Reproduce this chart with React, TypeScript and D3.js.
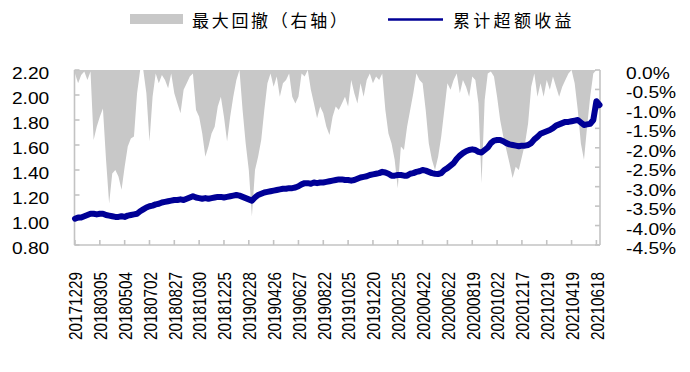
import React from "react";
import * as d3 from "d3";

// ---- data ----
const xLabels = [
  "20171229", "20180305", "20180504", "20180702", "20180827", "20181030",
  "20181225", "20190228", "20190426", "20190627", "20190822", "20191025",
  "20191220", "20200225", "20200422", "20200622", "20200819", "20201022",
  "20201217", "20210219", "20210419", "20210618",
];
const labelStepDays = 40; // trading days between labels
const sampleStepDays = 5; // trading days between samples
const lastDay = 845;

const leftTicks = [0.8, 1.0, 1.2, 1.4, 1.6, 1.8, 2.0, 2.2];
const rightTicks = [0, -0.5, -1.0, -1.5, -2.0, -2.5, -3.0, -3.5, -4.0, -4.5];

const seriesLineName = "累计超额收益";
const seriesAreaName = "最大回撤（右轴）";

// cumulative excess return (left axis)
const excessReturn = [
  1.01, 1.02, 1.02, 1.03, 1.04, 1.05, 1.05, 1.045, 1.05, 1.05,
  1.04, 1.035, 1.03, 1.025, 1.025, 1.03, 1.025, 1.035, 1.04, 1.045,
  1.05, 1.07, 1.085, 1.1, 1.11, 1.115, 1.125, 1.13, 1.14, 1.145,
  1.15, 1.155, 1.16, 1.16, 1.165, 1.16, 1.17, 1.18, 1.19, 1.18,
  1.175, 1.17, 1.175, 1.17, 1.175, 1.18, 1.185, 1.185, 1.18, 1.185,
  1.19, 1.195, 1.2, 1.195, 1.185, 1.175, 1.165, 1.155, 1.18, 1.2,
  1.21, 1.22, 1.225, 1.23, 1.235, 1.24, 1.245, 1.25, 1.25, 1.255,
  1.255, 1.26, 1.27, 1.285, 1.295, 1.295, 1.29, 1.3, 1.295, 1.3,
  1.3, 1.305, 1.31, 1.315, 1.32, 1.325, 1.325, 1.32, 1.32, 1.315,
  1.32, 1.33, 1.34, 1.345, 1.35, 1.36, 1.365, 1.37, 1.375, 1.385,
  1.38, 1.37, 1.355, 1.355, 1.36, 1.36, 1.355, 1.355, 1.37, 1.375,
  1.385, 1.39, 1.4, 1.395, 1.385, 1.375, 1.37, 1.368, 1.375, 1.4,
  1.415, 1.435, 1.455, 1.49, 1.515, 1.535, 1.55, 1.56, 1.565, 1.56,
  1.545, 1.54, 1.56, 1.58, 1.615, 1.635, 1.64, 1.64, 1.63, 1.615,
  1.605, 1.6, 1.595, 1.59, 1.595, 1.595, 1.6, 1.615, 1.645, 1.665,
  1.69, 1.7, 1.71, 1.72, 1.735, 1.755, 1.765, 1.775, 1.785, 1.785,
  1.79, 1.795, 1.8, 1.78, 1.76, 1.765, 1.77, 1.8, 1.95, 1.92,
];

// max drawdown in % (right axis)
const maxDrawdown = [
  -0.09, -0.34, -0.13, -0.04, -0.26, -0.04, -1.8, -1.46, -1.2, -0.99,
  -2.31, -3.43, -2.66, -2.57, -2.74, -3.08, -2.49, -1.97, -1.76, -1.71,
  -0.6, 0, 0, -0.6, -1.84, -0.69, -0.09, -0.34, -0.13, -0.26,
  -0.47, -0.09, -0.6, -0.86, -1.11, -0.51, -0.34, -0.17, -0.09, -1.03,
  -1.2, -1.63, -2.23, -1.97, -1.63, -1.46, -0.94, -0.69, -1.2, -1.84,
  -1.2, -0.69, -0.26, 0, -1.03, -1.89, -2.57, -3.77, -2.57, -2.23,
  -1.8, -1.03, -0.34, -0.09, -0.43, -0.17, -0.69, -0.34, -0.26, -0.09,
  -0.69, -0.86, -0.69, -0.09, -0.17, 0, -0.51, -0.86, -1.24, -0.94,
  -1.11, -1.46, -1.67, -1.2, -0.94, -1.03, -0.86, -0.69, -0.94, -0.26,
  -0.6, -0.86, -0.34, -0.69, -0.26, -0.09, -0.34, -0.17, -0.26, -0.09,
  -1.03, -1.63, -1.89, -2.31, -3.04, -1.97, -2.06, -1.46, -1.03, -0.6,
  -0.09, -0.26, -0.34, -1.03, -1.89, -2.31, -2.57, -2.23, -1.71, -1.03,
  -0.34, -0.51, -0.26, -0.09, -0.6, -0.26, -0.43, -0.69, -0.17, -0.26,
  -0.86, -2.91, -0.77, -0.09, -0.04, -0.17, -0.69, -1.29, -1.71, -2.06,
  -2.4, -2.78, -2.49, -2.57, -2.23, -1.89, -1.37, -0.43, -0.09, -0.69,
  -0.34, -0.69, -0.26, -0.51, -0.17, -0.43, -0.69, -0.43, -0.26, -0.09,
  0, -0.34, -1.03, -1.89, -2.31, -1.46, -0.69, -0.09, 0, 0,
];

// ---- layout ----
const W = 690;
const H = 372;
const plotLeft = 74.5;
const plotRight = 600;
const plotTop = 70;
const plotBottom = 245;
const axisColor = "#c3c3c3";
const areaColor = "#c8c8c8";
const lineColor = "#000096";
const numFont = "'Liberation Sans', Arial, Helvetica, sans-serif";
const cjkFont = "'Noto Sans CJK SC', 'Noto Sans', sans-serif";
const stretch = 1.13;

export default function App() {
  const x = d3.scaleLinear().domain([0, lastDay]).range([75, 599.5]);
  const yL = d3.scaleLinear().domain([0.8, 2.2]).range([plotBottom, plotTop]);
  const yR = d3.scaleLinear().domain([-4.5, 0]).range([plotBottom, plotTop]);

  const area = d3
    .area<number>()
    .x((_, i) => x(Math.min(i * sampleStepDays, lastDay)))
    .y0(() => yR(0))
    .y1((d) => yR(d));

  const line = d3
    .line<number>()
    .x((_, i) => x(Math.min(i * sampleStepDays, lastDay)))
    .y((d) => yL(d))
    .curve(d3.curveLinear);

  return (
    <svg
      width={W}
      height={H}
      style={{ position: "absolute", left: 0, top: 0, background: "#fff" }}
    >
      <rect x={0} y={0} width={W} height={H} fill="#fff" />

      {/* legend */}
      <rect x={130} y={14} width={53} height={10} fill={areaColor} />
      <text
        x={192}
        y={26.5}
        fontFamily={cjkFont}
        fontSize={17}
        letterSpacing={2.7}
        fill="#000"
      >
        {seriesAreaName}
      </text>
      <line x1={388} x2={443} y1={19.5} y2={19.5} stroke={lineColor} strokeWidth={2.5} />
      <text
        x={453}
        y={26.5}
        fontFamily={cjkFont}
        fontSize={17}
        letterSpacing={3.3}
        fill="#000"
      >
        {seriesLineName}
      </text>

      {/* drawdown area */}
      <path d={area(maxDrawdown) || ""} fill={areaColor} stroke="none" />

      {/* axes */}
      <g stroke={axisColor} strokeWidth={1.6} fill="none">
        <line x1={plotLeft} x2={plotLeft} y1={plotTop} y2={plotBottom} />
        <line x1={plotRight} x2={plotRight} y1={plotTop} y2={plotBottom} />
        <line x1={plotLeft} x2={plotRight} y1={plotBottom} y2={plotBottom} />
        {leftTicks.map((t) => (
          <line key={"lt" + t} x1={plotLeft} x2={plotLeft + 5} y1={yL(t)} y2={yL(t)} />
        ))}
        {rightTicks.map((t) => (
          <line key={"rt" + t} x1={plotRight - 5} x2={plotRight} y1={yR(t)} y2={yR(t)} />
        ))}
        {xLabels.map((lab, i) => (
          <line
            key={"xt" + lab}
            x1={x(i * labelStepDays)}
            x2={x(i * labelStepDays)}
            y1={plotBottom}
            y2={plotBottom - 5}
          />
        ))}
      </g>

      {/* excess return line */}
      <path
        d={line(excessReturn) || ""}
        fill="none"
        stroke={lineColor}
        strokeWidth={6}
        strokeLinejoin="round"
        strokeLinecap="round"
      />

      {/* left tick labels */}
      {leftTicks.map((t) => (
        <text
          key={"ll" + t}
          transform={`translate(49.3,${yL(t) + 8.5}) scale(${stretch},1)`}
          textAnchor="end"
          fontFamily={numFont}
          fontSize={17}
          fill="#000"
        >
          {t.toFixed(2)}
        </text>
      ))}

      {/* right tick labels */}
      {rightTicks.map((t) => (
        <text
          key={"rl" + t}
          transform={`translate(626,${yR(t) + 9}) scale(${stretch},1)`}
          textAnchor="start"
          fontFamily={numFont}
          fontSize={17}
          fill="#000"
        >
          {t.toFixed(1) + "%"}
        </text>
      ))}

      {/* x labels */}
      {xLabels.map((lab, i) => (
        <text
          key={"xl" + lab}
          transform={`translate(${x(i * labelStepDays) + 7.3},272) scale(1.16,1) rotate(-90)`}
          textAnchor="end"
          fontFamily={numFont}
          fontSize={15.3}
          fill="#000"
        >
          {lab}
        </text>
      ))}
    </svg>
  );
}
